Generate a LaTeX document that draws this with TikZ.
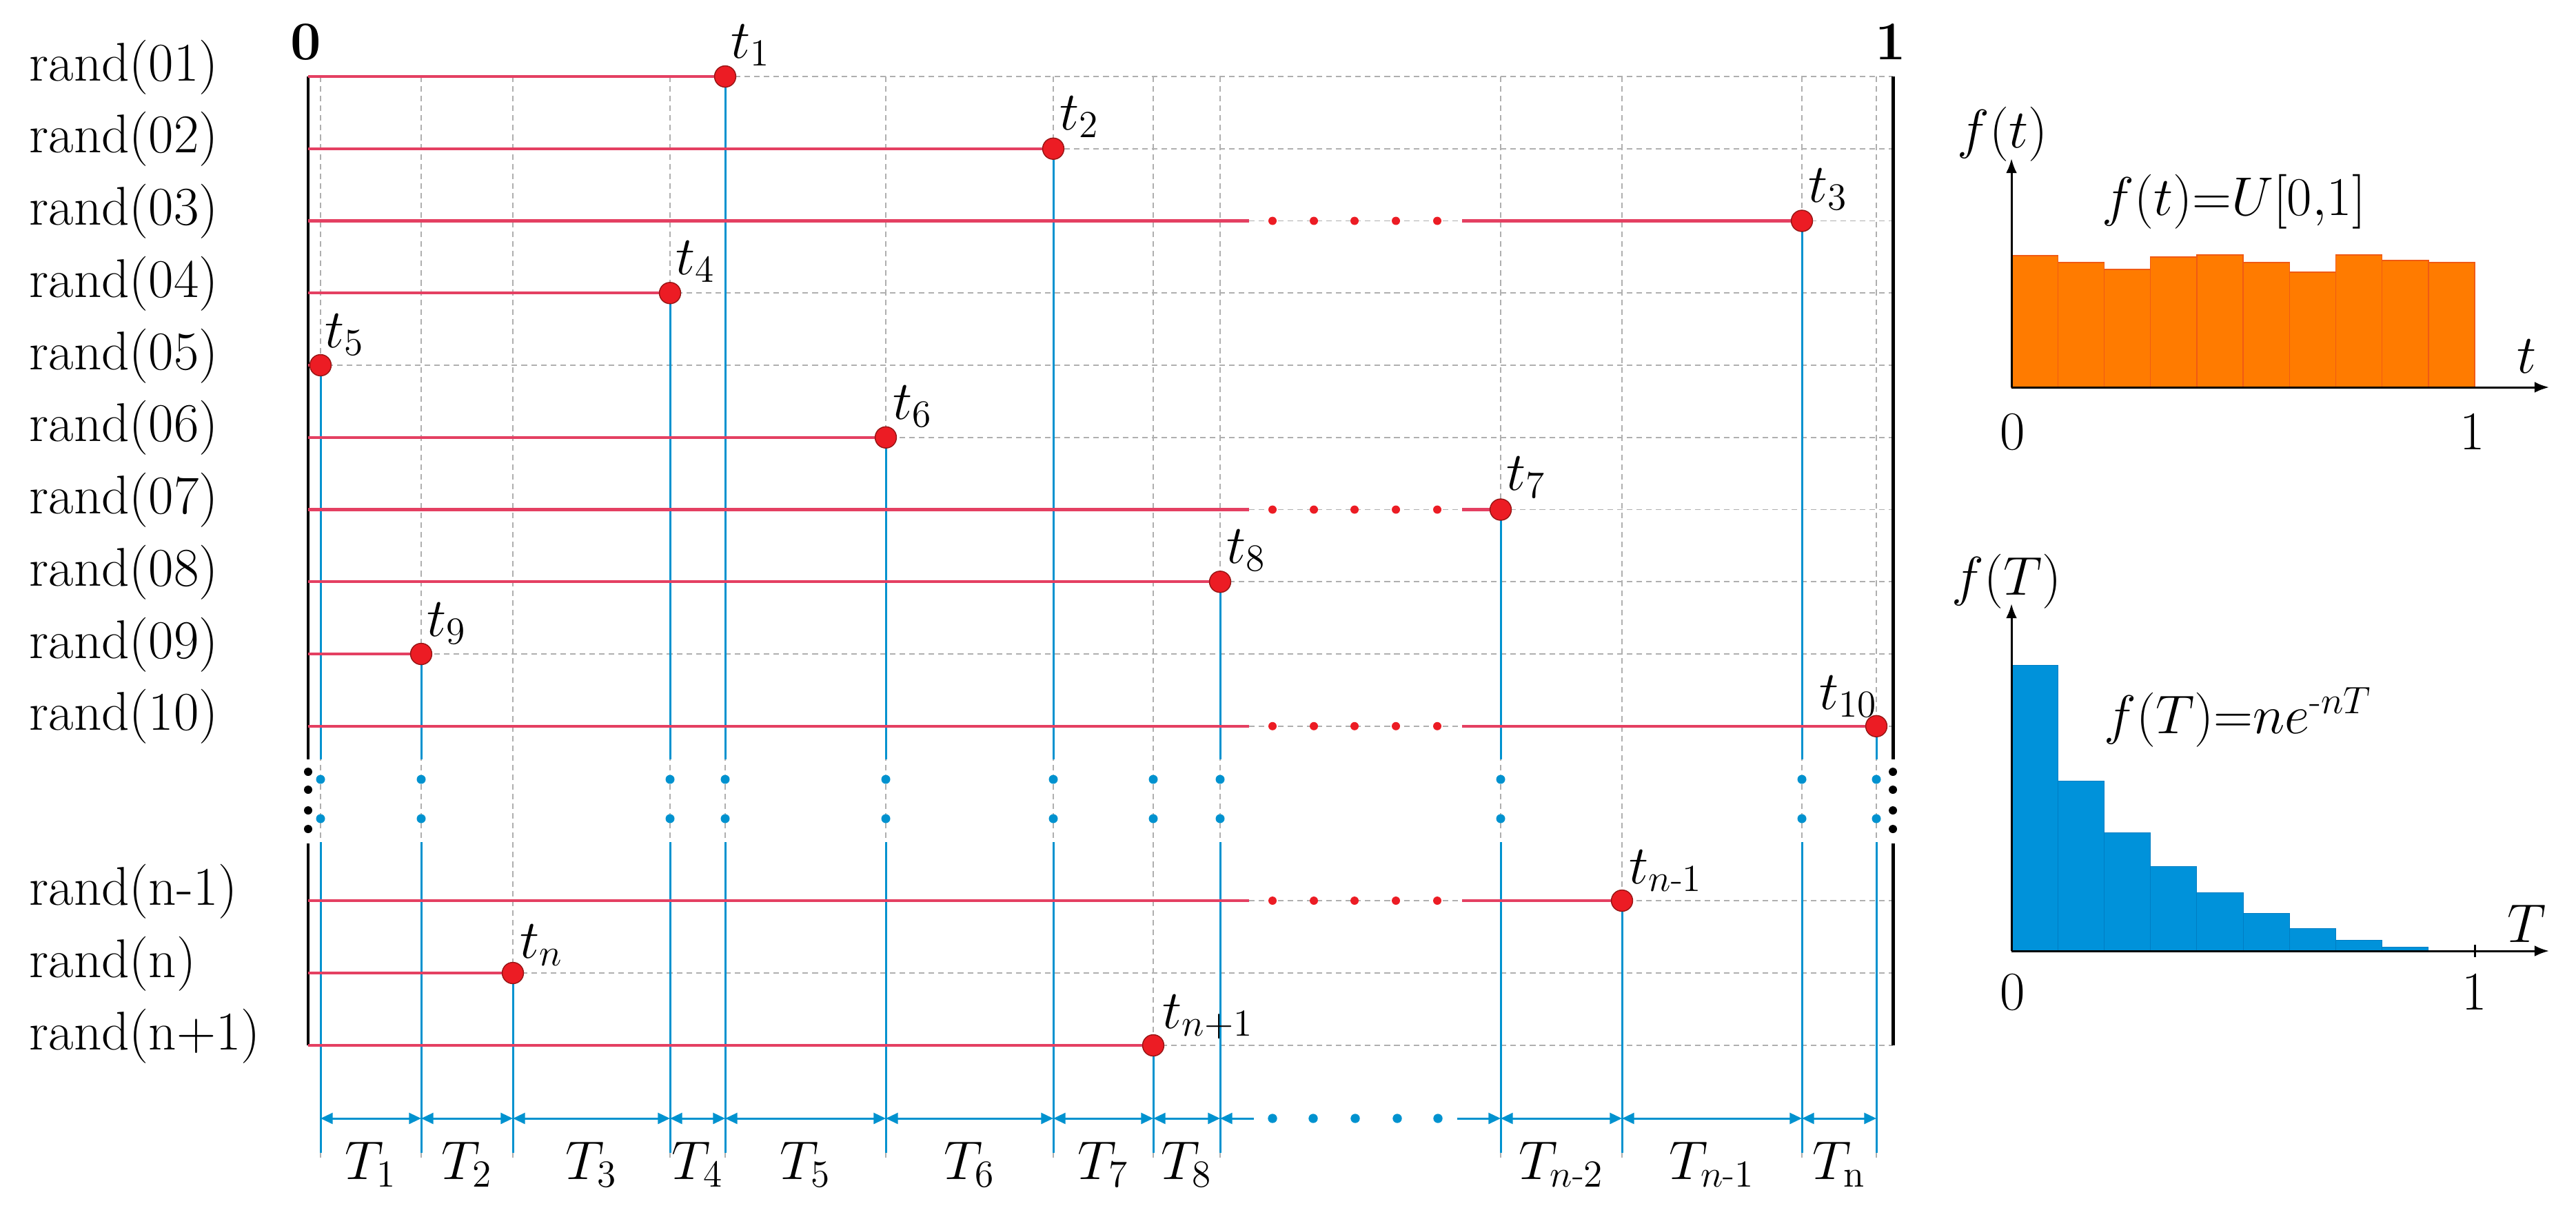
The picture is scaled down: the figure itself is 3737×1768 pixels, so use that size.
\RequirePackage{fix-cm}
\documentclass[tikz,border=0pt]{standalone}
\usepackage{amsmath}
\usetikzlibrary{arrows.meta}
\definecolor{redline}{RGB}{228,64,98}
\definecolor{dotred}{RGB}{236,28,36}
\definecolor{dotedge}{RGB}{150,20,20}
\definecolor{cblue}{RGB}{0,146,207}
\definecolor{gridgray}{RGB}{175,175,175}
\definecolor{barorange}{RGB}{255,123,0}
\definecolor{baredge}{RGB}{240,90,20}
\definecolor{barblue}{RGB}{0,146,218}
\definecolor{baredgeblue}{RGB}{0,125,195}
\tikzset{
  gridln/.style={gridgray, line width=0.45pt, dash pattern=on 2.3pt off 1.7pt},
  rline/.style={redline, line width=1.25pt},
  bline/.style={cblue, line width=0.85pt},
  blackax/.style={black, line width=1.4pt},
  evdot/.style={circle, fill=dotred, draw=dotedge, line width=0.4pt, minimum size=8.8pt, inner sep=0pt},
  lbl/.style={inner sep=0pt, font=\fontsize{22.5}{27}\selectfont},
  lblb/.style={inner sep=0pt, font=\fontsize{22.5}{27}\selectfont\bfseries},
  dimln/.style={cblue, line width=0.85pt},
  dtip/.tip={Triangle[length=5pt,width=4.5pt]},
  chartax/.style={black, line width=0.85pt},
  ctip/.tip={Latex[length=6pt,width=4.5pt]},
  orbar/.style={fill=barorange, draw=baredge, line width=0.4pt},
  blbar/.style={fill=barblue, draw=baredgeblue, line width=0.3pt}
}
\begin{document}
\begin{tikzpicture}[x=0.01cm,y=-0.01cm]
\useasboundingbox (0,0) rectangle (3737,1768);

% ---------- grid ----------
\foreach \y in {111,215.75,320.5,425.25,530,634.75,739.5,844.25,949,1053.75,1307,1412,1517}
  \draw[gridln] (447,\y) -- (2746,\y);
\foreach \x in {465,611,744,972,1052,1285,1528,1673,1770,2177,2353,2614,2722}
  \draw[gridln] (\x,111) -- (\x,1680);

% ---------- blue verticals ----------
\foreach \x/\y in {1052/111,1528/215.75,2614/320.5,972/425.25,465/530,1285/634.75,2177/739.5,1770/844.25,611/949,2722/1053.75}{
  \draw[bline] (\x,\y) -- (\x,1102);
  \draw[bline] (\x,1222) -- (\x,1673);
  \fill[cblue] (\x,1131) circle[radius=1.85pt] (\x,1188) circle[radius=1.85pt];
}
\foreach \x/\y in {2353/1307,744/1412,1673/1517}
  \draw[bline] (\x,\y) -- (\x,1673);
\fill[cblue] (1673,1131) circle[radius=1.85pt] (1673,1188) circle[radius=1.85pt];

% ---------- black axes ----------
\draw[blackax] (447,111) -- (447,1102) (447,1224) -- (447,1517);
\draw[blackax] (2746,111) -- (2746,1102) (2746,1224) -- (2746,1517);
\foreach \yy in {1120,1146,1176,1203}
  \fill (447,\yy) circle[radius=1.7pt] (2746,\yy) circle[radius=1.7pt];
\node[lblb, anchor=base] (zero) at (444,86) {0};
\node[lblb, anchor=base] (one) at (2743,86) {1};

% ---------- red lines ----------
\foreach \y/\x in {111/1052,215.75/1528,425.25/972,530/465,634.75/1285,844.25/1770,949/611,1412/744,1517/1673}
  \draw[rline] (447,\y) -- (\x,\y);
\foreach \y/\x in {320.5/2614,739.5/2177,1053.75/2722,1307/2353}{
  \draw[rline] (447,\y) -- (1812,\y);
  \draw[rline] (2121,\y) -- (\x,\y);
  \foreach \d in {1846,1906,1965,2025,2085}
    \fill[dotred] (\d,\y) circle[radius=1.7pt];
}

% ---------- event dots ----------
\node[evdot] (d1) at (1052,111) {};
\node[evdot] (d2) at (1528,215.75) {};
\node[evdot] (d3) at (2614,320.5) {};
\node[evdot] (d4) at (972,425.25) {};
\node[evdot] (d5) at (465,530) {};
\node[evdot] (d6) at (1285,634.75) {};
\node[evdot] (d7) at (2177,739.5) {};
\node[evdot] (d8) at (1770,844.25) {};
\node[evdot] (d9) at (611,949) {};
\node[evdot] (d10) at (2722,1053.75) {};
\node[evdot] (dnm) at (2353,1307) {};
\node[evdot] (dn) at (744,1412) {};
\node[evdot] (dnp) at (1673,1517) {};

% ---------- t labels ----------
\node[lbl, anchor=base west] (l1) at (1060,84) {$t_{1}$};
\node[lbl, anchor=base west] (l2) at (1537,188) {$t_{2}$};
\node[lbl, anchor=base west] (l3) at (2623,293) {$t_{3}$};
\node[lbl, anchor=base west] (l4) at (980,398) {$t_{4}$};
\node[lbl, anchor=base west] (l5) at (471,504) {$t_{5}$};
\node[lbl, anchor=base west] (l6) at (1295,608) {$t_{6}$};
\node[lbl, anchor=base west] (l7) at (2185,711) {$t_{7}$};
\node[lbl, anchor=base west] (l8) at (1779,817) {$t_{8}$};
\node[lbl, anchor=base west] (l9) at (619,923) {$t_{9}$};
\node[lbl, anchor=base east] (l10) at (2724,1029) {$t_{10}$};
\node[lbl, anchor=base west] (lnm) at (2363,1282) {$t_{n\text{-}1}$};
\node[lbl, anchor=base west] (ln) at (754,1390) {$t_{n}$};
\node[lbl, anchor=base west] (lnp) at (1686,1492) {$t_{n+1}$};

% ---------- rand labels ----------
\foreach \y/\t [count=\k] in {111/rand(01),215.75/rand(02),320.5/rand(03),425.25/rand(04),530/rand(05),634.75/rand(06),739.5/rand(07),844.25/rand(08),949/rand(09),1053.75/rand(10),1307/rand(n-1),1412/rand(n),1517/rand(n+1)}
  \node[lbl, anchor=base west] (r\k) at (42,\y+6) {\t};

% ---------- interval arrows ----------
\foreach \a/\b in {465/611,611/744,744/972,972/1052,1052/1285,1285/1528,1528/1673,1673/1770,2177/2353,2353/2614,2614/2722}
  \draw[dimln, dtip-dtip] (\a,1623) -- (\b,1623);
\draw[dimln, dtip-] (1770,1623) -- (1819,1623);
\draw[dimln, -dtip] (2114,1623) -- (2177,1623);
\foreach \d in {1846,1905,1966,2027,2086}
  \fill[cblue] (\d,1623) circle[radius=1.9pt];

\node[lbl, anchor=base] (T1) at (538,1711) {$T_{1}$};
\node[lbl, anchor=base] (T2) at (677.5,1711) {$T_{2}$};
\node[lbl, anchor=base] (T3) at (858,1711) {$T_{3}$};
\node[lbl, anchor=base] (T4) at (1012,1711) {$T_{4}$};
\node[lbl, anchor=base] (T5) at (1168.5,1711) {$T_{5}$};
\node[lbl, anchor=base] (T6) at (1406.5,1711) {$T_{6}$};
\node[lbl, anchor=base] (T7) at (1600.5,1711) {$T_{7}$};
\node[lbl, anchor=base] (T8) at (1721.5,1711) {$T_{8}$};
\node[lbl, anchor=base] (Tnm2) at (2265,1711) {$T_{n\text{-}2}$};
\node[lbl, anchor=base] (Tnm1) at (2483.5,1711) {$T_{n\text{-}1}$};
\node[lbl, anchor=base] (Tn) at (2668,1711) {$T_{\mathrm{n}}$};

% ---------- uniform histogram ----------
\foreach \k/\h in {0/371,1/381,2/391,3/373,4/370,5/381,6/395,7/370,8/378,9/381}
  \draw[orbar] (2918+67.2*\k,562) rectangle (2918+67.2*\k+67.2,\h);
\draw[chartax, -ctip] (2918,562) -- (3698,562);
\draw[chartax, -ctip] (2918,562) -- (2918,230);
\node[lbl, anchor=base] (fta) at (2905,214) {$f(t)$};
\node[lbl, anchor=base west] (ftu) at (3049,312) {$f(t){=}U[0{,}1]$};
\node[lbl, anchor=base] (tax) at (3665,541) {$t$};
\node[lbl, anchor=base] (u0) at (2920,652) {0};
\node[lbl, anchor=base] (u1) at (3587,652) {1};

% ---------- exponential histogram ----------
\foreach \k/\h in {0/965,1/1133,2/1208,3/1257,4/1295,5/1325,6/1347,7/1364,8/1374}
  \draw[blbar] (2918+67.2*\k,1380) rectangle (2918+67.2*\k+67.2,\h);
\draw[chartax, -ctip] (2918,1380) -- (3698,1380);
\draw[chartax, -ctip] (2918,1380) -- (2918,876);
\draw[chartax] (3590,1371) -- (3590,1389);
\node[lbl, anchor=base] (fTa) at (2911,863) {$f(T)$};
\node[lbl, anchor=base west] (fTe) at (3052,1064) {$f(T){=}ne^{\text{-}nT}$};
\node[lbl, anchor=base] (Tax) at (3666,1367) {$T$};
\node[lbl, anchor=base] (e0) at (2920,1465) {0};
\node[lbl, anchor=base] (e1) at (3590,1465) {1};
\end{tikzpicture}
\end{document}
